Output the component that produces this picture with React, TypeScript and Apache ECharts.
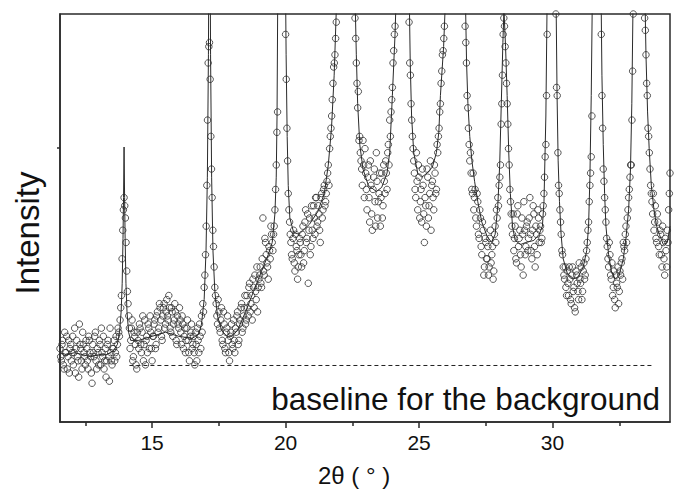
import React, { useEffect, useRef } from "react";
import * as echarts from "echarts";

// Observed diffraction pattern, read on two interleaved regular 2θ grids
const X_START_A = 11.55;
const X_START_B = 11.575;
const X_STEP = 0.05;
const X_MIN = 11.55;
const X_MAX = 34.4;

const observedA: number[] = [
  18, 15, 20, 13, 17, 21, 16, 12, 19, 17,
  14, 23, 18, 16, 11, 19, 15, 22, 17, 14,
  18, 13, 20, 16, 9.5, 17, 21, 15, 18, 14,
  19, 23, 16, 13, 18, 15, 20, 10, 17, 14,
  18, 15, 21, 19, 22, 25, 31, 47, 55, 50,
  37, 29, 23, 20, 25, 16, 21, 14, 22, 18,
  23, 17, 26, 19, 14, 21, 24, 18, 22, 15,
  21, 25, 19, 27, 23, 28, 21, 26, 29, 24,
  30, 25, 28, 22, 27, 24, 29, 20, 26, 23,
  25, 19, 24, 21, 17, 23, 20, 15, 22, 18,
  21, 14, 19, 23, 17, 21, 26, 29, 33, 41,
  58, 88, 93, 70, 55, 43, 33, 29, 24, 27,
  22, 28, 19, 24, 17, 23, 20, 15, 22, 19,
  25, 17, 22, 27, 20, 25, 29, 23, 28, 24,
  31, 26, 34, 29, 25, 33, 36, 30, 27, 35,
  38, 33, 50, 36, 44, 39, 35, 42, 48, 44,
  46, 52, 63, 76, 120, 130, 140, 135, 118, 95,
  72, 56, 49, 44, 40, 47, 37, 43, 35, 41,
  44, 38, 48, 42, 52, 45, 34, 50, 43, 47,
  53, 46, 55, 49, 51, 44, 56, 52, 58, 54,
  59, 63, 67, 72, 79, 87, 90, 98, 115, 130,
  140, 150, 155, 160, 160, 155, 150, 145, 140, 130,
  118, 99, 88, 77, 69, 66, 62, 69, 55, 61,
  52, 63, 49, 58, 47, 60, 54, 66, 50, 56,
  48, 61, 53, 59, 64, 57, 68, 74, 76, 82,
  91, 97, 115, 130, 140, 150, 150, 145, 140, 130,
  120, 105, 88, 78, 70, 64, 57, 66, 52, 60,
  54, 49, 58, 44, 53, 62, 50, 56, 47, 59,
  52, 61, 57, 66, 72, 78, 86, 91, 97, 108,
  120, 135, 145, 150, 155, 155, 150, 145, 135, 125,
  120, 115, 110, 104, 93, 80, 72, 64, 61, 56,
  52, 57, 48, 54, 45, 50, 41, 47, 38, 44,
  40, 36, 45, 39, 43, 37, 48, 52, 55, 58,
  63, 78, 95, 97, 88, 78, 67, 57, 51, 46,
  42, 48, 39, 53, 45, 41, 50, 36, 47, 43,
  49, 45, 55, 42, 47, 51, 38, 46, 52, 44,
  48, 45, 53, 60, 68, 95, 120, 140, 150, 140,
  125, 110, 82, 66, 56, 49, 42, 38, 35, 33,
  37, 31, 35, 29, 38, 33, 27, 36, 32, 39,
  34, 30, 37, 35, 40, 44, 49, 58, 65, 110,
  130, 145, 150, 145, 130, 110, 80, 62, 55, 49,
  43, 38, 41, 35, 31, 37, 28, 34, 38, 32,
  36, 40, 44, 42, 48, 50, 55, 60, 63, 86,
  110, 130, 145, 150, 150, 145, 135, 120, 99, 90,
  80, 70, 62, 56, 51, 47, 53, 44, 49, 41,
  46, 38, 44, 36, 42, 47, 52, 61,
];

const observedB: number[] = [
  16, 19, 14, 22, 17, 13, 20, 18, 15, 21,
  17, 12, 20, 15, 24, 18, 13, 19, 16, 20,
  15, 21, 17, 12, 19, 16, 22, 13, 17, 20,
  14, 17, 21, 15, 11, 19, 16, 23, 15, 18,
  20, 17, 16, 23, 21, 28, 40, 52, 53, 44,
  32, 26, 18, 23, 15, 22, 19, 13, 20, 24,
  19, 22, 15, 25, 20, 17, 23, 26, 18, 21,
  24, 18, 26, 22, 29, 25, 20, 28, 23, 27,
  26, 31, 23, 28, 21, 25, 27, 19, 24, 28,
  22, 26, 18, 23, 20, 25, 17, 21, 24, 19,
  17, 22, 15, 20, 24, 18, 22, 27, 36, 48,
  74, 92, 84, 62, 47, 38, 31, 26, 30, 23,
  25, 20, 27, 18, 22, 26, 17, 21, 24, 18,
  20, 23, 26, 19, 24, 28, 22, 26, 31, 25,
  28, 33, 27, 31, 35, 28, 32, 38, 33, 36,
  34, 40, 37, 45, 41, 38, 43, 40, 46, 42,
  48, 57, 71, 110, 125, 140, 140, 130, 110, 84,
  64, 52, 46, 41, 45, 39, 46, 42, 38, 45,
  41, 46, 39, 49, 44, 51, 47, 41, 53, 45,
  50, 55, 48, 53, 47, 55, 50, 57, 53, 56,
  61, 58, 70, 75, 83, 88, 94, 105, 120, 135,
  145, 150, 158, 160, 158, 152, 148, 142, 135, 125,
  110, 94, 83, 81, 70, 64, 58, 63, 67, 57,
  60, 55, 64, 51, 57, 62, 48, 59, 54, 61,
  55, 50, 63, 56, 61, 66, 63, 70, 79, 88,
  95, 105, 120, 135, 145, 150, 150, 145, 135, 125,
  112, 98, 85, 74, 67, 61, 55, 59, 63, 50,
  57, 62, 51, 55, 48, 60, 53, 64, 58, 55,
  63, 56, 68, 70, 76, 83, 90, 94, 102, 112,
  128, 140, 148, 152, 155, 152, 148, 140, 130, 122,
  118, 112, 106, 97, 88, 77, 68, 66, 57, 61,
  55, 50, 56, 46, 52, 43, 49, 36, 45, 40,
  43, 38, 47, 41, 35, 46, 44, 50, 53, 60,
  73, 85, 99, 92, 83, 73, 63, 54, 48, 51,
  45, 40, 51, 43, 47, 38, 46, 54, 41, 48,
  42, 50, 46, 40, 53, 43, 48, 41, 50, 47,
  44, 51, 56, 65, 80, 110, 130, 145, 150, 135,
  120, 100, 80, 58, 52, 46, 41, 36, 38, 31,
  34, 38, 30, 36, 32, 28, 37, 34, 30, 35,
  38, 32, 39, 36, 42, 47, 54, 61, 75, 120,
  138, 148, 150, 140, 122, 95, 72, 59, 52, 45,
  40, 44, 36, 39, 33, 30, 36, 33, 29, 37,
  39, 35, 43, 46, 44, 52, 57, 63, 74, 100,
  120, 140, 148, 152, 148, 140, 128, 112, 96, 83,
  72, 66, 58, 54, 56, 49, 45, 51, 43, 47,
  41, 48, 40, 45, 38, 44, 56,
];

// Fitted profile [2θ, intensity]
const fitCurve: [number, number][] = [
  [11.55, 17], [11.8, 16.5], [12.1, 17], [12.4, 16.5], [12.7, 16], [13.0, 16.5], [13.3, 16.5],
  [13.55, 17.5], [13.7, 19], [13.78, 22], [13.84, 27], [13.88, 34], [13.91, 45], [13.93, 55],
  [13.95, 67.4], [13.97, 55], [13.99, 45], [14.02, 34], [14.06, 27], [14.12, 22], [14.2, 20],
  [14.5, 20], [15.0, 21], [15.5, 22], [16.0, 21], [16.5, 20.5], [16.75, 21.5], [16.85, 24],
  [16.95, 30], [17.02, 42], [17.07, 60], [17.11, 90], [17.15, 150], [17.19, 90], [17.23, 60],
  [17.28, 42], [17.35, 32], [17.45, 26], [17.6, 22.5], [17.8, 21], [18.0, 21], [18.2, 22.5],
  [18.5, 27], [18.8, 32], [19.1, 37], [19.35, 41], [19.5, 44], [19.6, 51], [19.65, 60],
  [19.68, 75], [19.72, 120], [19.85, 200], [19.98, 120], [20.02, 90], [20.06, 70], [20.1, 58],
  [20.16, 50], [20.3, 46.5], [20.5, 46], [20.9, 48.5], [21.2, 51.5], [21.45, 56], [21.6, 63],
  [21.72, 72], [21.82, 85], [21.92, 105], [22.25, 200], [22.6, 105], [22.65, 90], [22.7, 78],
  [22.78, 68], [22.9, 62], [23.1, 58], [23.4, 56.5], [23.6, 57.5], [23.8, 61], [23.9, 66],
  [24.0, 80], [24.1, 95], [24.17, 110], [24.4, 200], [24.62, 110], [24.67, 88], [24.72, 75],
  [24.8, 66], [24.95, 61], [25.1, 60], [25.3, 61], [25.5, 62.5], [25.65, 66], [25.74, 71],
  [25.8, 80], [25.92, 92], [26.04, 112], [26.4, 200], [26.72, 110], [26.78, 88], [26.83, 78],
  [26.9, 70], [26.98, 64], [27.08, 59], [27.2, 54], [27.35, 49], [27.55, 45.5], [27.72, 44],
  [27.85, 46], [27.95, 53], [28.02, 63], [28.08, 78], [28.14, 93], [28.18, 101], [28.24, 92],
  [28.3, 80], [28.36, 66], [28.42, 56], [28.5, 48], [28.6, 44.5], [28.8, 43.5], [29.0, 44],
  [29.3, 44.5], [29.5, 46], [29.62, 48], [29.68, 54], [29.75, 75], [29.8, 105], [29.95, 200],
  [30.13, 105], [30.17, 80], [30.21, 64], [30.26, 54], [30.32, 46], [30.4, 40], [30.55, 36.5],
  [30.75, 35], [30.95, 35.5], [31.15, 38], [31.28, 42], [31.35, 48], [31.4, 60], [31.45, 80],
  [31.5, 110], [31.65, 200], [31.81, 110], [31.85, 85], [31.9, 68], [31.95, 56], [32.0, 48],
  [32.1, 41], [32.2, 37], [32.35, 35], [32.5, 36], [32.65, 40], [32.75, 45], [32.85, 52],
  [32.92, 62], [32.97, 78], [33.01, 100], [33.05, 115], [33.25, 200], [33.46, 105], [33.5, 90],
  [33.56, 76], [33.62, 67], [33.7, 58], [33.8, 52], [33.9, 48], [34.0, 46], [34.15, 43.5],
  [34.3, 44], [34.4, 48],
];

const baseline: [number, number][] = [[14.15, 13.85], [33.8, 13.85]];

const majorTicks = [15, 20, 25, 30];
const minorTicks = [12.5, 17.5, 22.5, 27.5, 32.5];
const yTicks = [67.2];

const FONT = "'Liberation Sans', Arial, Helvetica, sans-serif";

export default function App() {
  const ref = useRef<HTMLDivElement>(null);

  useEffect(() => {
    if (!ref.current) return;
    const chart = echarts.init(ref.current, null, { renderer: "svg" });
    const obsData = [
      ...observedA.map((v, i) => [+(X_START_A + i * X_STEP).toFixed(3), v]),
      ...observedB.map((v, i) => [+(X_START_B + i * X_STEP).toFixed(3), v]),
    ];

    chart.setOption({
      animation: false,
      backgroundColor: "#ffffff",
      grid: {
        left: 60,
        right: 9,
        top: 14,
        bottom: 68,
        show: true,
        borderColor: "#2a2a2a",
        borderWidth: 1.5,
        backgroundColor: "transparent",
        outerBoundsMode: "none",
      },
      xAxis: [
        {
          type: "value",
          min: X_MIN,
          max: X_MAX,
          position: "bottom",
          axisLine: { show: true, lineStyle: { color: "#2a2a2a", width: 1.5 } },
          axisTick: {
            show: true,
            customValues: majorTicks,
            length: 6,
            inside: false,
            lineStyle: { color: "#2a2a2a", width: 1.5 },
          },
          axisLabel: {
            show: true,
            customValues: majorTicks,
            fontSize: 21,
            color: "#111",
            fontFamily: FONT,
            margin: 10,
          },
          splitLine: { show: false },
        },
        {
          type: "value",
          min: X_MIN,
          max: X_MAX,
          position: "bottom",
          axisLine: { show: false },
          axisTick: {
            show: true,
            customValues: minorTicks,
            length: 4,
            inside: false,
            lineStyle: { color: "#2a2a2a", width: 1.5 },
          },
          axisLabel: { show: false },
          splitLine: { show: false },
        },
      ],
      yAxis: {
        type: "value",
        min: 0,
        max: 100,
        axisLine: { show: true, lineStyle: { color: "#2a2a2a", width: 1.5 } },
        axisTick: {
          show: true,
          customValues: yTicks,
          length: 3,
          lineStyle: { color: "#2a2a2a", width: 1.5 },
        },
        axisLabel: { show: false },
        splitLine: { show: false },
      },
      series: [
        {
          type: "scatter",
          data: obsData,
          symbol: "circle",
          symbolSize: 6.5,
          clip: true,
          itemStyle: { color: "rgba(0,0,0,0)", borderColor: "#2e2e2e", borderWidth: 1 },
          z: 2,
        },
        {
          type: "line",
          data: fitCurve,
          showSymbol: false,
          symbol: "none",
          clip: true,
          lineStyle: { color: "#2a2a2a", width: 1 },
          z: 3,
        },
        {
          type: "line",
          data: baseline,
          showSymbol: false,
          symbol: "none",
          clip: true,
          lineStyle: { color: "#222", width: 1, type: [4, 3] },
          z: 3,
        },
      ],
      graphic: [
        {
          type: "text",
          x: 660,
          y: 399,
          style: {
            text: "baseline for the background",
            fontSize: 31.5,
            fontFamily: FONT,
            fill: "#111",
            align: "right",
            verticalAlign: "middle",
          },
        },
        {
          type: "text",
          x: 318,
          y: 475,
          style: {
            text: "2θ ( ° )",
            fontSize: 24,
            fontFamily: FONT,
            fill: "#111",
            align: "left",
            verticalAlign: "middle",
          },
        },
        {
          type: "text",
          x: 27,
          y: 233,
          rotation: Math.PI / 2,
          style: {
            text: "Intensity",
            fontSize: 33,
            fontFamily: FONT,
            fill: "#111",
            align: "center",
            verticalAlign: "middle",
          },
        },
      ],
    });

    return () => chart.dispose();
  }, []);

  return (
    <div
      ref={ref}
      style={{ position: "fixed", left: 0, top: 0, width: 679, height: 490 }}
    />
  );
}
